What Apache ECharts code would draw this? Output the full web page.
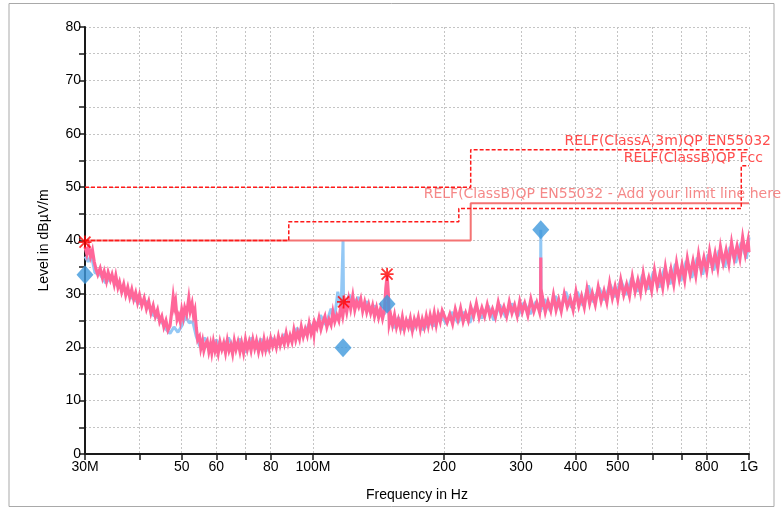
<!DOCTYPE html>
<html><head><meta charset="utf-8">
<script src="https://cdn.jsdelivr.net/npm/echarts@6/dist/echarts.min.js"></script>
<style>html,body{margin:0;padding:0;background:#fff}#c{width:784px;height:511px}</style>
</head><body><div id="c"></div>
<script>
// ---- data (frequency in MHz, level in dBuV/m) ----
const xTickValues = [30,40,50,60,70,80,100,200,300,400,500,600,700,800,1000];
const xLabelValues = [30,50,60,80,100,200,300,400,500,800,1000];
const xLabelText = {30:'30M',50:'50',60:'60',80:'80',100:'100M',200:'200',300:'300',400:'400',500:'500',800:'800',1000:'1G'};

const pinkTrace = [
[30,38.8],[30.3,37.4],[30.6,38.9],[30.9,37.0],[31.2,38.2],[31.5,36.0],[31.8,34.6],[32.1,33.6],[32.5,34.8],[32.9,33.0],[33.2,34.2],[33.6,32.4],[33.9,34.0],[34.3,32.6],[34.6,33.6],[35,31.8],[35.3,33.4],[35.7,31.2],[36,32.2],[36.4,30.4],[36.8,31.8],[37.2,29.8],[37.6,31.2],[38,29.4],[38.4,30.8],[38.8,29.0],[39.2,30.2],[39.6,28.4],[40,29.8],
[40.5,27.8],[41,29.2],[41.5,27.2],[42,28.6],[42.5,26.4],[43,27.8],[43.5,25.8],[44,27.0],[44.5,24.8],[45,25.8],[45.5,23.8],[46,25.0],[46.5,23.2],[47,24.0],[47.4,26.5],[47.8,29.4],[48.1,27.6],[48.4,28.6],[48.8,25.2],[49.2,26.0],[49.6,24.8],[50,27.0],[50.4,25.6],[50.8,27.4],[51.3,26.2],[51.9,29.2],[52.3,26.8],[52.8,28.2],[53.2,26.0],[53.6,27.0],[54,23.6],[54.4,21.4],[54.9,22.0],[55.3,19.8],[55.8,21.2],[56.2,19.4],[56.7,20.6],
[57.2,21.2],[57.7,19.2],[58.2,20.6],[58.6,19.0],[59.1,21.0],[59.6,19.4],[60,20.4],[60.6,18.8],[61.2,21.0],[61.8,19.6],[62.4,20.8],[63,19.0],[63.6,21.2],[64.2,19.4],[64.8,20.4],[65.4,18.8],[66,21.2],[66.6,19.6],[67.3,21.0],[68,19.2],[68.6,20.8],[69.3,19.0],[70,21.4],[70.7,19.6],[71.4,21.0],[72.1,19.4],[72.8,21.4],[73.5,19.8],[74.2,21.2],[75,19.2],[75.7,20.8],[76.5,19.4],[77.2,21.4],[77.9,19.6],[78.6,21.0],[79.3,19.8],
[80,21.6],[80.8,20.2],[81.6,21.4],[82.4,20.0],[83.3,22.0],[84.1,20.4],[85,21.8],[85.9,20.6],[86.8,22.6],[87.7,20.8],[88.6,22.2],[89.5,21.0],[90.4,23.2],[91.3,21.4],[92.2,22.8],[93.1,21.6],[94,23.8],[95,22.0],[96,23.4],[97,22.2],[98,24.4],[99,22.6],
[100,24.0],[100.5,22.6],[101,24.6],[102.1,23.6],[103.2,25.4],[104.3,23.4],[105.4,24.8],[106.5,25.8],[107.6,23.8],[108.8,25.2],[110,24.2],[111.1,26.6],[112.2,24.8],[113.4,26.0],[114.6,25.0],[115.8,27.6],[117,25.8],[118.3,28.4],[119.5,26.6],[120.8,29.0],[122,27.2],[123.4,29.6],[124.7,27.0],[126,28.6],[127.3,27.6],[128.7,29.0],[130,26.8],[131.4,28.4],[132.8,26.6],[134.2,28.0],[135.6,26.4],[137,27.8],[138.4,25.8],[139.9,27.4],[141.4,25.6],[142.9,27.2],[144.4,25.4],[145.9,27.0],
[146.9,31.0],[147.9,33.4],[148.9,30.0],[149.6,24.4],[150.9,25.8],[152.2,24.2],[153.8,26.0],[155.4,23.8],[157,25.2],[158.7,23.6],[160.3,25.6],[162,23.4],[163.7,25.0],[165.5,23.8],[167.2,25.4],[169,23.2],[170.8,25.2],[172.6,24.0],[174.4,25.6],[176.3,23.4],[178.1,25.2],[180,23.8],[181.9,25.8],[183.8,24.0],[185.7,26.0],[187.7,24.4],[189.7,26.4],[191.7,24.2],[193.7,26.2],[195.8,24.8],[197.9,26.8],
[200,26.9],[203,24.6],[206,26.2],[209,24.4],[212,27.1],[215,25.2],[218,27.3],[221,24.8],[224,26.4],[227,25.0],[230,27.6],[233.5,25.8],[237,28.2],[240.5,25.6],[244,27.4],[247.5,25.8],[251,28.0],[254.5,25.9],[258,27.2],[262,25.6],[266,28.4],[270,26.2],[274,27.6],[278,25.8],[282,28.5],[286,26.4],[290,27.9],[294,25.9],[298,28.6],
[302,26.6],[306,28.2],[311,26.0],[316,29.0],[321,26.7],[326,28.4],[331,26.5],[332.6,28.0],[333,36.8],[333.4,27.6],[336,29.4],[341,26.6],[346,28.6],[351,26.9],[356,29.8],[361,27.0],[366,28.9],[371,26.8],[377,30.0],[383,27.6],[389,29.2],[395,27.0],
[401,30.4],[407,27.7],[413,29.6],[419,27.5],[425,30.9],[431,28.2],[437,30.2],[444,28.0],[451,31.3],[458,28.6],[465,30.6],[472,28.4],[479,32.0],[486,29.2],[493,31.4],
[500,29.0],[508,32.6],[516,29.8],[524,31.8],[532,29.6],[540,33.2],[548,30.4],[556,32.6],[564,30.2],[572,33.8],[580,31.0],[589,33.0],[598,30.6],
[607,34.4],[616,31.4],[625,33.8],[634,31.2],[643,35.0],[652,32.0],[662,34.6],[672,31.8],[682,35.8],[692,32.8],[702,35.4],[712,32.6],[722,36.6],[733,33.6],[744,36.2],[755,33.4],[766,37.4],[777,34.4],[788,36.8],
[800,34.2],[812,38.0],[824,35.0],[836,37.6],[848,34.8],[860,38.8],[873,35.8],[886,38.2],[899,35.6],[912,39.6],[925,36.6],[939,39.0],[953,36.6],[967,40.6],[981,37.4],[995,40.0],[1000,37.8]
];

const blueTrace = [
[30,37.0],[30.5,36.0],[31,37.4],[31.6,34.0],[32.5,33.6],[33.5,32.0],[34.5,33.4],[35.5,31.6],[36.5,31.2],[37.5,30.2],[38.5,29.2],[40,28.2],[41.5,28.6],[43,26.0],[44.5,25.4],[46,23.4],[47,22.6],[48,23.8],[49,22.8],[50,24.0],[51,25.8],[52,24.6],[53,24.8],[54,22.0],
[55,20.2],[56.5,21.8],[58,19.2],[60,21.4],[62,19.4],[64,21.8],[66,19.6],[68,21.6],[70,19.0],[72,21.8],[74,19.6],[76,21.6],[78,19.2],[80,21.8],[83,20.6],[86,22.4],[89,21.2],[92,23.6],[95,22.0],[98,24.4],[101,23.2],[104,26.0],[107,24.2],[110,27.2],[112,25.2],[114,30.4],[116,27.0],[117.2,40.0],[117.5,29.0],
[119,27.6],[121,29.8],[124,28.0],[127,29.4],[130,27.4],[133,28.6],[136,26.6],[139,27.8],[142,26.0],[144,27.4],[146,26.2],[147.9,28.5],[150,25.6],[153,23.6],[157,25.6],[161,23.2],[165,25.2],[169,23.0],[174,25.4],[179,23.2],[184,24.6],[190,24.0],[196,26.4],
[202,24.4],[208,26.6],[215,24.6],[222,26.6],[229,24.6],[236,27.6],[244,25.4],[252,27.8],[260,25.0],[268,28.0],[277,25.6],[286,28.2],[295,25.8],[305,28.4],[315,26.2],[325,28.6],[332.5,26.6],[333,42.0],[333.5,27.0],
[340,29.0],[350,26.8],[360,29.6],[370,27.0],[380,30.4],[392,27.4],[404,30.4],[416,27.8],[428,31.6],[440,28.4],[453,31.2],[466,28.8],[480,31.8],[494,29.4],[508,32.6],[523,29.8],[538,33.0],[554,30.4],[570,33.6],[587,30.8],[604,34.2],[622,31.2],[640,34.8],[659,31.8],[678,35.6],[698,32.4],[718,36.2],[739,33.0],[761,36.8],[783,33.6],[806,37.4],[830,34.4],[854,38.2],[879,35.0],[905,38.8],[932,35.8],[959,39.6],[987,36.6],[1000,40.6]
];

const limitClassA = [[30,50],[230,50],[230,57],[1000,57]];
const limitFcc = [[30,40],[88,40],[88,43.5],[216,43.5],[216,46],[960,46],[960,54],[1000,54]];
const limitClassB = [[30,40],[230,40],[230,47],[1000,47]];

const diamonds = [[30,33.6],[117.2,19.9],[147.9,28.1],[333,42.0]];
const stars = [[30,39.7],[117.5,28.5],[147.9,33.7]];

const limitNames = ['RELF(ClassA,3m)QP EN55032','RELF(ClassB)QP Fcc','RELF(ClassB)QP EN55032 - Add your limit line here'];
const limitNameAnchors = [[1000,57],[1000,54],[230,47]];

// ---- build ----
const L = v => Math.log10(v);
const tr = arr => arr.map(p => [L(p[0]), p[1]]);

const starPath = 'path://M4.3,0H5.7V10H4.3Z M0,4.3H10V5.7H0Z M1.3,0.3L9.7,8.7L8.7,9.7L0.3,1.3Z M8.7,0.3L9.7,1.3L1.3,9.7L0.3,8.7Z';

const chart = echarts.init(document.getElementById('c'), null, {renderer:'canvas'});
const axisFont = {fontFamily:'Liberation Sans', fontSize:14, color:'#000'};
const labelStyles = [
  {align:'right', offset:[22,-8], color:'#ff2020'},
  {align:'right', offset:[14,-7], color:'#ff2020'},
  {align:'left', offset:[-47,-9], color:'#f26a6a'}
];

chart.setOption({
  animation:false,
  backgroundColor:'#fff',
  grid:{left:85, right:35, top:27, bottom:57},
  graphic:[{type:'rect', shape:{x:9, y:3.5, width:765, height:503}, style:{fill:null, stroke:'#a9a9a9', lineWidth:1}, silent:true, z:-10}],
  xAxis:{
    type:'value', min:L(30), max:L(1000),
    name:'Frequency in Hz', nameLocation:'middle', nameGap:34,
    nameTextStyle:{fontFamily:'Liberation Sans', fontSize:14, color:'#000'},
    axisLine:{lineStyle:{color:'#1a1a1a', width:2}},
    axisTick:{show:true, length:6, lineStyle:{color:'#1a1a1a', width:1.5}, customValues:xTickValues.map(L)},
    axisLabel:Object.assign({customValues:xLabelValues.map(L), margin:6, hideOverlap:false,
      formatter:v => { const f = Math.round(Math.pow(10, v)); return xLabelText[f] || String(f); }}, axisFont),
    splitLine:{show:true, lineStyle:{color:'#c4c4c4', type:[2,2], width:1}}
  },
  yAxis:{
    type:'value', min:0, max:80, interval:5,
    name:'Level in dBµV/m', nameLocation:'middle', nameGap:34,
    nameTextStyle:{fontFamily:'Liberation Sans', fontSize:14, color:'#000'},
    axisLine:{show:true, lineStyle:{color:'#1a1a1a', width:2}},
    axisTick:{show:true, length:6, lineStyle:{color:'#1a1a1a', width:1.5}},
    axisLabel:Object.assign({margin:4, formatter:v => (v % 10 === 0 ? String(v) : '')}, axisFont),
    splitLine:{show:true, lineStyle:{color:'#c4c4c4', type:[2,2], width:1}}
  },
  series:[
    {type:'line', data:tr(blueTrace), showSymbol:false, silent:true, lineStyle:{color:'#93c8f5', width:3}, z:2},
    {type:'line', data:tr(pinkTrace), showSymbol:false, silent:true, lineStyle:{color:'#ff6699', width:3.2, join:'miter'}, z:3},
    {type:'line', data:tr(limitClassB), showSymbol:false, silent:true, lineStyle:{color:'#f47373', width:2}, z:4},
    {type:'line', data:tr(limitClassA), showSymbol:false, silent:true, lineStyle:{color:'#ff1a1a', width:1.5, type:[4,2]}, z:4},
    {type:'line', data:tr(limitFcc), showSymbol:false, silent:true, lineStyle:{color:'#ff1a1a', width:1.5, type:[4,2]}, z:4},
    {type:'scatter', data:tr(diamonds), symbol:'diamond', symbolSize:[17,19], itemStyle:{color:'#3f98dc'}, clip:false, silent:true, z:6},
    {type:'scatter', data:tr(stars), symbol:starPath, symbolSize:13, itemStyle:{color:'#ff0000'}, clip:false, silent:true, z:7},
    {type:'scatter', symbolSize:0, clip:false, silent:true, z:8,
      data:limitNameAnchors.map((p,i) => ({value:[L(p[0]), p[1]], name:limitNames[i],
        label:Object.assign({position:'inside'}, labelStyles[i])})),
      label:{show:true, formatter:'{b}', fontFamily:'DejaVu Sans', fontSize:14, verticalAlign:'middle'},
      itemStyle:{color:'transparent'}
    }
  ]
});
</script></body></html>
